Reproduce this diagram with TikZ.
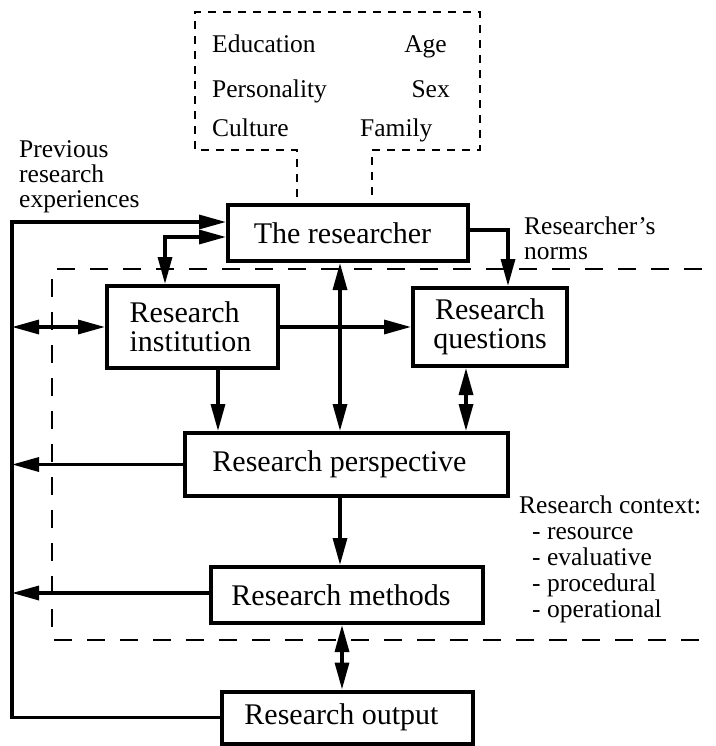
\documentclass[tikz,border=0pt]{standalone}
\usepackage{fontspec}
\setmainfont{Liberation Serif}
\usetikzlibrary{arrows.meta,calc}
\begin{document}
\begin{tikzpicture}[x=1pt,y=-1pt,
  box/.style={draw,line width=4pt,rectangle,inner sep=0pt,font=\fontsize{30}{29}\selectfont,align=center},
  small/.style={inner sep=0pt,font=\fontsize{25.5}{25}\selectfont},
  tip/.tip={Triangle[length=27pt,width=14pt]},
  arr/.style={line width=3.3pt,-tip},
  dbl/.style={line width=3.3pt,tip-tip},
  topdash/.style={line width=2pt,dash pattern=on 8pt off 7pt},
  bigdash/.style={line width=1.6pt,dash pattern=on 18pt off 15pt}]
\useasboundingbox (0,0) rectangle (715,746);

% top dashed box of personal factors
\draw[topdash] (297,197) -- (297,150) -- (195,150) -- (195,12) -- (480,12) -- (480,150) -- (372,150) -- (372,197);
\node[small,anchor=base west] (edu) at (212,53) {Education};
\node[small,anchor=base east] (age) at (447,53) {Age};
\node[small,anchor=base west] (pers) at (212,98) {Personality};
\node[small,anchor=base east] (sex) at (450,98) {Sex};
\node[small,anchor=base west] (cult) at (212,137) {Culture};
\node[small,anchor=base west] (fam) at (360,137) {Family};

% large dashed context frame
\coordinate (d1) at (702,269);
\coordinate (d2) at (52,269);
\coordinate (d3) at (52,640);
\coordinate (d4) at (702,640);
\draw[bigdash] (d1) -- (d2) -- (d3) -- (d4);

% boxes
\node[box,minimum width=240pt,minimum height=56pt] (res) at (348,233) {The researcher\hspace*{11pt}};
\node[box,minimum width=171pt,minimum height=82pt,align=left] (inst) at (192.5,327) {Research\\institution\hspace*{4pt}};
\node[box,minimum width=154pt,minimum height=78pt] (ques) at (490,327) {Research\\questions};
\node[box,minimum width=323pt,minimum height=63pt] (persp) at (346.5,464.5) {Research perspective\hspace*{14pt}};
\node[box,minimum width=272pt,minimum height=56pt] (meth) at (347,595) {Research methods\hspace*{12pt}};
\node[box,minimum width=251pt,minimum height=52pt] (out) at (347.5,717.5) {Research output\hspace*{12pt}};

% labels
\node[small,anchor=west,align=left] (prev) at (19,177) {Previous\\research\\experiences};
\node[small,anchor=west,align=left] (norms) at (524,238) {Researcher's\\norms};
\node[small,anchor=north west,align=left,font=\fontsize{25.5}{26}\selectfont] (ctx) at (519,496)
  {Research context:\\\hspace*{13pt}- resource\\\hspace*{13pt}- evaluative\\\hspace*{13pt}- procedural\\\hspace*{13pt}- operational};

% helper coordinates
\coordinate (lt) at (12,222);
\coordinate (c1) at (165,237);
\coordinate (c2) at (508,230);
\coordinate (vx) at (340,0);
\coordinate (ix) at (218,0);
\coordinate (qx) at (466,0);
\coordinate (ox) at (342,0);
\coordinate (my) at (0,593);

% connectors
\draw[arr,line join=miter] (out.west) -| (lt) -- (lt -| res.west);
\draw[dbl] (c1 -| res.west) -- (c1) -- (c1 |- inst.north);
\draw[dbl] (inst.west -| lt) -- (inst.west);
\draw[arr] (inst.east) -- (ques.west);
\draw[arr] (c2 -| res.east) -- (c2) -- (c2 |- ques.north);
\draw[dbl] (vx |- res.south) -- (vx |- persp.north);
\draw[arr] (ix |- inst.south) -- (ix |- persp.north);
\draw[dbl] (qx |- ques.south) -- (qx |- persp.north);
\draw[arr] (persp.west) -- (persp.west -| lt);
\draw[arr] (vx |- persp.south) -- (vx |- meth.north);
\draw[arr] (my -| meth.west) -- (my -| lt);
\draw[dbl] (ox |- meth.south) -- (ox |- out.north);
\end{tikzpicture}
\end{document}
